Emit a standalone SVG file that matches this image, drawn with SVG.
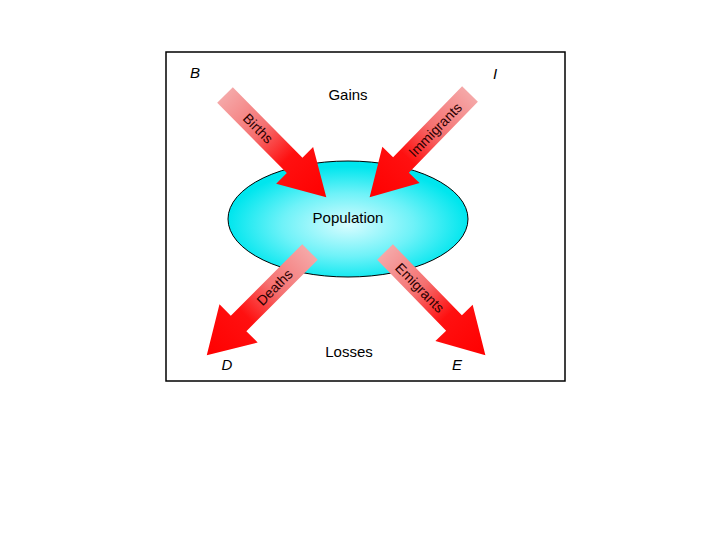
<svg xmlns="http://www.w3.org/2000/svg" width="720" height="540" viewBox="0 0 720 540">
<defs>
<radialGradient id="popGrad" cx="0.5" cy="0.55" r="0.5">
<stop offset="0" stop-color="#d8fcff"/>
<stop offset="0.55" stop-color="#6ef2f8"/>
<stop offset="1" stop-color="#00e6ee"/>
</radialGradient>
<linearGradient id="arrowGrad" x1="0" y1="0" x2="1" y2="0">
<stop offset="0" stop-color="#f5a8a8"/>
<stop offset="0.35" stop-color="#f57070"/>
<stop offset="0.62" stop-color="#ff1010"/>
<stop offset="1" stop-color="#ff0000"/>
</linearGradient>
</defs>
<style>
.lbl{font-family:"Liberation Sans",Arial,sans-serif;font-size:15px;fill:#000;text-anchor:middle}
.var{font-family:"Liberation Sans",Arial,sans-serif;font-size:15px;font-style:italic;fill:#000;text-anchor:middle}
.alb{font-family:"Liberation Sans",Arial,sans-serif;font-size:14px;fill:#2a0000;text-anchor:middle}
.arrow{fill:url(#arrowGrad);stroke:none}
</style>
<rect x="166" y="52" width="399" height="329" fill="#ffffff" stroke="#000000" stroke-width="1.5"/>
<g id="population">
<ellipse cx="348" cy="219" rx="120" ry="58" fill="url(#popGrad)" stroke="#000" stroke-width="1"/>
<text class="lbl" x="348" y="223">Population</text>
</g>
<g id="connectors">
<g id="births-arrow" transform="translate(225,95) rotate(45.3)">
<polygon class="arrow" points="0,-11 99,-11 99,-26 144,0 99,26 99,11 0,11"/>
<text class="alb" x="47" y="0" dy="0.35em">Births</text>
</g>
<g id="immigrants-arrow" transform="translate(470,94) rotate(134.2)">
<polygon class="arrow" points="0,-11 99,-11 99,-26 144,0 99,26 99,11 0,11"/>
<text class="alb" x="50" y="0" dy="0.35em" transform="rotate(180 50 0)">Immigrants</text>
</g>
<g id="deaths-arrow" transform="translate(310,252) rotate(135)">
<polygon class="arrow" points="0,-11 101,-11 101,-27 146,0 101,27 101,11 0,11"/>
<text class="alb" x="50" y="0" dy="0.35em" transform="rotate(180 50 0)">Deaths</text>
</g>
<g id="emigrants-arrow" transform="translate(385,252) rotate(45.8)">
<polygon class="arrow" points="0,-11 99,-11 99,-26 144,0 99,26 99,11 0,11"/>
<text class="alb" x="50" y="0" dy="0.35em">Emigrants</text>
</g>
</g>
<g id="labels">
<text class="lbl" x="348" y="100">Gains</text>
<text class="lbl" x="349" y="357">Losses</text>
<text class="var" x="195" y="78">B</text>
<text class="var" x="495" y="79">I</text>
<text class="var" x="227" y="370">D</text>
<text class="var" x="457" y="370">E</text>
</g>
</svg>
